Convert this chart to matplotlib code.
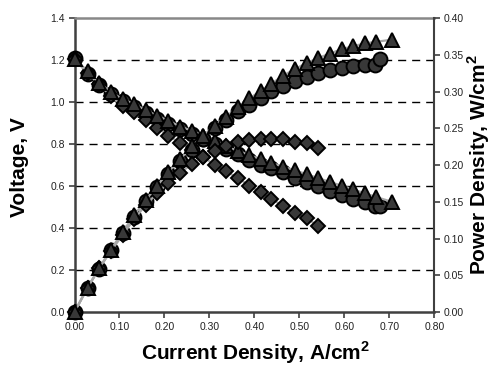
import matplotlib
matplotlib.use("Agg")
import matplotlib.pyplot as plt

plt.rcParams['font.family'] = ['Liberation Sans', 'DejaVu Sans']
plt.rcParams['mathtext.fontset'] = 'custom'
plt.rcParams['mathtext.rm'] = 'Liberation Sans'
plt.rcParams['mathtext.bf'] = 'Liberation Sans:bold'

# ---- data ----
# triangles series
tri_i = [0.000, 0.029, 0.055, 0.081, 0.107, 0.133, 0.159, 0.184, 0.209, 0.235,
         0.261, 0.286, 0.312, 0.337, 0.363, 0.389, 0.414, 0.438, 0.464, 0.490,
         0.516, 0.542, 0.568, 0.594, 0.620, 0.646, 0.671, 0.706]
tri_v = [1.205, 1.150, 1.093, 1.048, 1.015, 0.990, 0.962, 0.935, 0.912, 0.884,
         0.864, 0.840, 0.814, 0.790, 0.768, 0.748, 0.728, 0.710, 0.693, 0.675,
         0.657, 0.638, 0.620, 0.602, 0.584, 0.566, 0.548, 0.525]
tri_p = [0.000, 0.033, 0.060, 0.085, 0.109, 0.132, 0.153, 0.172, 0.191, 0.208,
         0.226, 0.240, 0.254, 0.266, 0.279, 0.291, 0.301, 0.311, 0.322, 0.331,
         0.339, 0.346, 0.352, 0.358, 0.362, 0.366, 0.368, 0.371]

# circles series
cir_i = [0.000, 0.029, 0.055, 0.081, 0.107, 0.133, 0.159, 0.184, 0.209, 0.235,
         0.261, 0.286, 0.312, 0.337, 0.363, 0.389, 0.414, 0.438, 0.464, 0.490,
         0.516, 0.542, 0.568, 0.594, 0.620, 0.646, 0.668, 0.679]
cir_v = [1.210, 1.135, 1.080, 1.040, 1.005, 0.975, 0.948, 0.922, 0.898, 0.872,
         0.848, 0.825, 0.800, 0.778, 0.755, 0.725, 0.703, 0.685, 0.665, 0.641,
         0.620, 0.600, 0.579, 0.559, 0.540, 0.522, 0.505, 0.505]
cir_p = [0.000, 0.033, 0.059, 0.084, 0.108, 0.130, 0.151, 0.170, 0.188, 0.205,
         0.221, 0.236, 0.250, 0.262, 0.274, 0.282, 0.292, 0.301, 0.308, 0.314,
         0.320, 0.325, 0.329, 0.332, 0.335, 0.337, 0.337, 0.344]

# diamonds series
dia_i = [0.000, 0.029, 0.055, 0.081, 0.107, 0.133, 0.159, 0.184, 0.209, 0.235,
         0.261, 0.286, 0.312, 0.337, 0.363, 0.389, 0.414, 0.438, 0.464, 0.490,
         0.516, 0.542]
dia_v = [1.205, 1.140, 1.085, 1.030, 0.983, 0.952, 0.917, 0.878, 0.841, 0.805,
         0.774, 0.738, 0.702, 0.670, 0.639, 0.602, 0.570, 0.538, 0.506, 0.474,
         0.446, 0.411]
dia_p = [0.000, 0.033, 0.060, 0.083, 0.105, 0.127, 0.146, 0.162, 0.176, 0.189,
         0.202, 0.211, 0.219, 0.226, 0.232, 0.234, 0.236, 0.236, 0.235, 0.232,
         0.230, 0.223]

x_ticks = [0.0, 0.1, 0.2, 0.3, 0.4, 0.5, 0.6, 0.7, 0.8]
v_ticks = [0.0, 0.2, 0.4, 0.6, 0.8, 1.0, 1.2, 1.4]
p_ticks = [0.00, 0.05, 0.10, 0.15, 0.20, 0.25, 0.30, 0.35, 0.40]

W, H = 491, 365
fig = plt.figure(figsize=(W / 100, H / 100), dpi=100)
L, R, T, B = 74.5, 434.3, 18.3, 312.0
ax = fig.add_axes([L / W, 1 - B / H, (R - L) / W, (B - T) / H])
ax2 = ax.twinx()

face = '#383838'
line_c = '#a8a8a8'

# gridlines from the left axis
for v in v_ticks[1:-1]:
    ax.axhline(v, color='black', lw=1.0, dashes=(5.8, 4.3), zorder=0)

def series(axis, x, y, marker, ms, z):
    axis.plot(x, y, color=line_c, lw=1.6, zorder=z - 0.5, clip_on=False)
    axis.plot(x, y, ls='none', marker=marker, ms=ms, mfc=face, mec='black',
              mew=1.4, zorder=z, clip_on=False)

series(ax, cir_i, cir_v, 'o', 10.0, 3)
series(ax2, cir_i, cir_p, 'o', 10.0, 3)
series(ax, dia_i, dia_v, 'D', 6.8, 4)
series(ax2, dia_i, dia_p, 'D', 6.8, 4)
series(ax, tri_i, tri_v, '^', 10.0, 5)
series(ax2, tri_i, tri_p, '^', 10.0, 5)

ax.set_xlim(0, 0.8)
ax.set_ylim(0, 1.4)
ax2.set_ylim(0, 0.40)
ax.set_xticks(x_ticks)
ax.set_xticklabels([f'{t:.2f}' for t in x_ticks])
ax.set_yticks(v_ticks)
ax.set_yticklabels([f'{t:.1f}' for t in v_ticks])
ax2.set_yticks(p_ticks)
ax2.set_yticklabels([f'{t:.2f}' for t in p_ticks])

for a in (ax, ax2):
    a.tick_params(axis='both', labelsize=7.5, direction='out', length=4,
                  width=1.2, color='#404040', labelcolor='#222222', pad=3)
    for s in a.spines.values():
        s.set_visible(False)

ax.spines['left'].set_visible(True)
ax.spines['left'].set_color('#404040')
ax.spines['left'].set_linewidth(1.8)
ax.spines['bottom'].set_visible(True)
ax.spines['bottom'].set_color('#404040')
ax.spines['bottom'].set_linewidth(1.8)
ax.spines['top'].set_visible(True)
ax.spines['top'].set_color('#888888')
ax.spines['top'].set_linewidth(1.8)
ax2.spines['right'].set_visible(True)
ax2.spines['right'].set_color('#404040')
ax2.spines['right'].set_linewidth(1.5)

fig.text(20 / W, 1 - 167 / H, 'Voltage, V', rotation=90, ha='center',
         va='center', fontsize=15, fontweight='bold')
fig.text(255 / W, 1 - 360 / H, r'Current Density, A/cm$^{\mathbf{2}}$',
         ha='center', va='baseline', fontsize=15, fontweight='bold')
fig.text(478.5 / W, 1 - 165 / H, r'Power Density, W/cm$^{\mathbf{2}}$',
         rotation=90, ha='center', va='center', fontsize=15, fontweight='bold')

fig.savefig('out.png', dpi=100)
